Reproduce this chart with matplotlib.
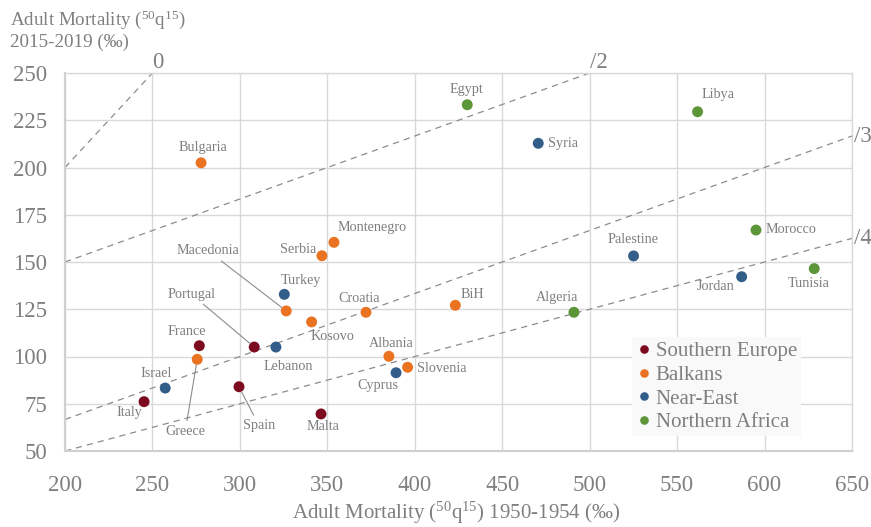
import matplotlib
matplotlib.use("Agg")
import matplotlib.pyplot as plt
from matplotlib.lines import Line2D

plt.rcParams['font.family'] = ['Liberation Serif', 'DejaVu Serif']
plt.rcParams['mathtext.fontset'] = 'custom'
plt.rcParams['mathtext.rm'] = 'Liberation Serif'
plt.rcParams['mathtext.it'] = 'Liberation Serif:italic'

# ---------------- data ----------------
regions = ['Southern Europe', 'Balkans', 'Near-East', 'Northern Africa']
region_colors = ['#7D0B20', '#EA7322', '#335E8A', '#5D9539']

countries = ['Italy', 'France', 'Portugal', 'Spain', 'Malta',
             'Bulgaria', 'Montenegro', 'Serbia', 'Macedonia', 'Kosovo', 'Croatia',
             'BiH', 'Albania', 'Slovenia', 'Greece',
             'Israel', 'Lebanon', 'Turkey', 'Cyprus', 'Syria', 'Palestine', 'Jordan',
             'Egypt', 'Libya', 'Morocco', 'Tunisia', 'Algeria']
country_region = ['Southern Europe'] * 5 + ['Balkans'] * 10 + ['Near-East'] * 7 + ['Northern Africa'] * 5
mort_1950 = [245.2, 276.8, 308.2, 299.5, 346.4,
             277.8, 353.8, 346.9, 326.5, 341.0, 372.1,
             423.2, 385.2, 395.9, 275.6,
             257.3, 320.6, 325.4, 389.3, 470.6, 525.1, 586.9,
             430.0, 561.7, 595.1, 628.4, 491.0]
mort_2015 = [76.1, 105.7, 105.0, 84.0, 69.6,
             202.5, 160.4, 153.3, 124.1, 118.3, 123.4,
             127.1, 100.1, 94.3, 98.5,
             83.3, 105.0, 132.9, 91.4, 212.8, 153.2, 142.2,
             233.2, 229.5, 166.9, 146.5, 123.4]

# reference lines (decline factors)
ref_labels = ['0', '/2', '/3', '/4']
ref_x0 = [200, 200, 200, 200]
ref_y0 = [200, 150, 200 / 3, 50]
ref_x1 = [250, 500, 650, 650]
ref_y1 = [250, 250, 650 / 3, 162.5]

x_ticks = [200, 250, 300, 350, 400, 450, 500, 550, 600, 650]
y_ticks = [50, 75, 100, 125, 150, 175, 200, 225, 250]

# ---------------- label placement (offset pixels, ha, leader) ----------------
label_style = {
    'Italy': (-15, -11, 'center', False),
    'France': (-13, 14, 'center', False),
    'Portugal': (-63, 53, 'center', True),
    'Spain': (20, -39, 'center', True),
    'Malta': (2, -13, 'center', False),
    'Bulgaria': (2, 15, 'center', False),
    'Montenegro': (4, 15, 'left', False),
    'Serbia': (-6, 6, 'right', False),
    'Macedonia': (-78, 60, 'center', True),
    'Kosovo': (21, -15, 'center', False),
    'Croatia': (-7, 14, 'center', False),
    'BiH': (17, 11, 'center', False),
    'Albania': (2, 13, 'center', False),
    'Slovenia': (9, -1, 'left', False),
    'Greece': (-12, -72, 'center', True),
    'Israel': (-9, 15, 'center', False),
    'Lebanon': (12, -19, 'center', False),
    'Turkey': (17, 14, 'center', False),
    'Cyprus': (-18, -13, 'center', False),
    'Syria': (10, 0, 'left', False),
    'Palestine': (-1, 16, 'center', False),
    'Jordan': (-26, -10, 'center', False),
    'Egypt': (-1, 15, 'center', False),
    'Libya': (20, 17, 'center', False),
    'Morocco': (10, 1, 'left', False),
    'Tunisia': (-6, -15, 'center', False),
    'Algeria': (-17, 15, 'center', False),
}

GRAY = '#7F7F7F'
GRID = '#D9D9D9'
TICK_FS = 16.5

fig = plt.figure(figsize=(8.71, 5.27), dpi=100)
ax = fig.add_axes([65 / 871, 1 - 451 / 527, 787 / 871, 378 / 527])

ax.set_xlim(200, 650)
ax.set_ylim(50, 250)
ax.set_xticks(x_ticks)
ax.set_yticks(y_ticks)
ax.grid(True, color=GRID, lw=1.0, zorder=0)
ax.set_axisbelow(True)
for s in ['top', 'right']:
    ax.spines[s].set_color(GRID)
    ax.spines[s].set_linewidth(1.0)
for s in ['left', 'bottom']:
    ax.spines[s].set_color('#D0D0D0')
    ax.spines[s].set_linewidth(1.5)
ax.tick_params(axis='both', length=0, labelsize=TICK_FS, labelcolor=GRAY)
ax.tick_params(axis='x', pad=17)
ax.tick_params(axis='y', pad=13)

# reference lines
for lab, x0, y0, x1, y1 in zip(ref_labels, ref_x0, ref_y0, ref_x1, ref_y1):
    ax.plot([x0, x1], [y0, y1], ls=(0, (5, 4)), color='#8C8C8C', lw=0.9, zorder=1)
    if lab == '0':
        ax.annotate(lab, (x1, y1), xytext=(5, 11), textcoords='offset pixels',
                    ha='center', va='center', fontsize=TICK_FS, color=GRAY,
                    annotation_clip=False)
    elif lab == '/2':
        ax.annotate(lab, (x1, y1), xytext=(0, 11), textcoords='offset pixels',
                    ha='left', va='center', fontsize=TICK_FS, color=GRAY,
                    annotation_clip=False)
    else:
        ax.annotate(lab, (x1, y1), xytext=(2, 0), textcoords='offset pixels',
                    ha='left', va='center', fontsize=TICK_FS, color=GRAY,
                    annotation_clip=False)

# points
for reg, col in zip(regions, region_colors):
    xs = [x for x, r in zip(mort_1950, country_region) if r == reg]
    ys = [y for y, r in zip(mort_2015, country_region) if r == reg]
    ax.scatter(xs, ys, s=62, color=col, edgecolors='none', zorder=3)

# labels
for name, x, y in zip(countries, mort_1950, mort_2015):
    dx, dy, ha, leader = label_style[name]
    kw = {}
    if leader:
        kw['arrowprops'] = dict(arrowstyle='-', color='#8C8C8C', lw=0.8,
                                shrinkA=1, shrinkB=4)
    ax.annotate(name, (x, y), xytext=(dx, dy), textcoords='offset pixels',
                ha=ha, va='center', fontsize=10.2, color=GRAY, zorder=4, **kw)

# legend
handles = [Line2D([0], [0], marker='o', ls='none', markersize=6.2,
                  markerfacecolor=c, markeredgecolor='none') for c in region_colors]
leg = ax.legend(handles, regions, loc='upper left',
                bbox_to_anchor=((631.7 - 65) / 787, (451 - 337.3) / 378),
                fontsize=15, frameon=True, fancybox=False, borderpad=0.2,
                handletextpad=0.15, labelspacing=0.2, handlelength=0.8,
                borderaxespad=0)
leg.get_frame().set_facecolor('#F9F9F9')
leg.get_frame().set_edgecolor('none')
leg.get_frame().set_alpha(1)
for t in leg.get_texts():
    t.set_color(GRAY)

# axis titles
fig.text(456.5 / 871, 1 - 519 / 527,
         r'Adult Mortality ($^{50}$q$^{15}$) 1950-1954 (‰)',
         ha='center', va='baseline', fontsize=15, color=GRAY)
fig.text(10 / 871, 1 - 8 / 527,
         'Adult Mortality ($^{50}$q$^{15}$)\n2015-2019 (‰)',
         ha='left', va='top', fontsize=13.7, color=GRAY, linespacing=1.25)

fig.savefig('out.png', dpi=100)
